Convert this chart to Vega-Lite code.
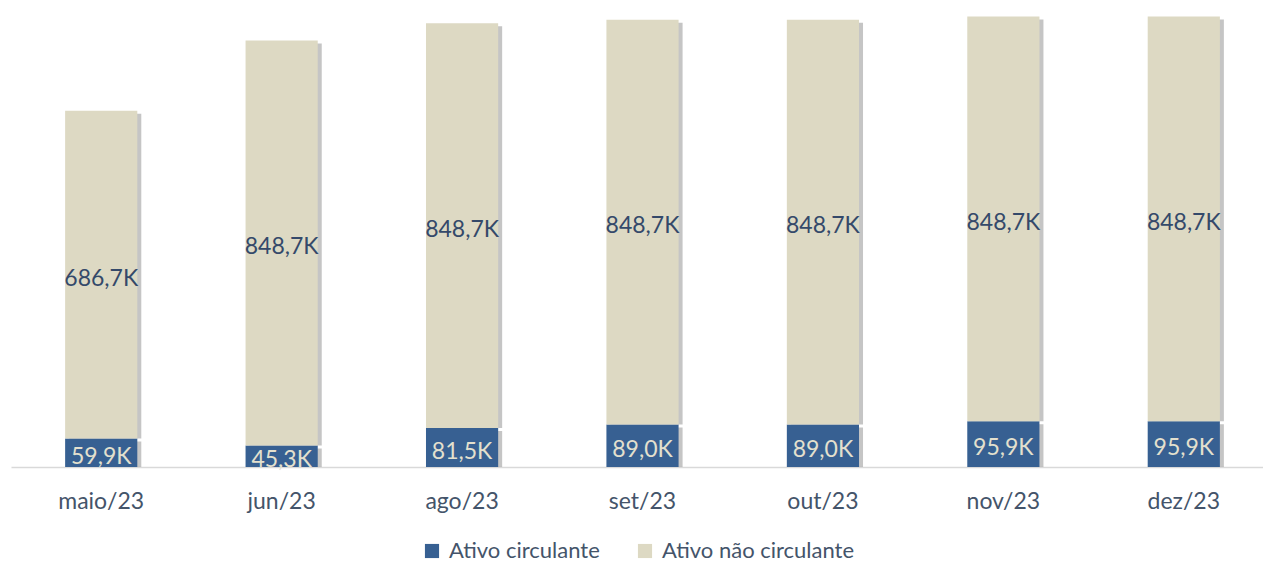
{
  "$schema": "https://vega.github.io/schema/vega-lite/v6.json",
  "autosize": {"type": "none"},
  "width": 1263,
  "height": 467,
  "padding": {"left": 11, "top": 0, "right": 0, "bottom": 98},
  "background": "white",
  "config": {"view": {"stroke": null}, "font": "Lato"},
  "data": {"values": [
    {"mes": "maio/23", "serie": "Ativo circulante", "ordem": 1, "valor": 59.9, "rotulo": "59,9K"},
    {"mes": "maio/23", "serie": "Ativo não circulante", "ordem": 2, "valor": 686.7, "rotulo": "686,7K"},
    {"mes": "jun/23", "serie": "Ativo circulante", "ordem": 1, "valor": 45.3, "rotulo": "45,3K"},
    {"mes": "jun/23", "serie": "Ativo não circulante", "ordem": 2, "valor": 848.7, "rotulo": "848,7K"},
    {"mes": "ago/23", "serie": "Ativo circulante", "ordem": 1, "valor": 81.5, "rotulo": "81,5K"},
    {"mes": "ago/23", "serie": "Ativo não circulante", "ordem": 2, "valor": 848.7, "rotulo": "848,7K"},
    {"mes": "set/23", "serie": "Ativo circulante", "ordem": 1, "valor": 89.0, "rotulo": "89,0K"},
    {"mes": "set/23", "serie": "Ativo não circulante", "ordem": 2, "valor": 848.7, "rotulo": "848,7K"},
    {"mes": "out/23", "serie": "Ativo circulante", "ordem": 1, "valor": 89.0, "rotulo": "89,0K"},
    {"mes": "out/23", "serie": "Ativo não circulante", "ordem": 2, "valor": 848.7, "rotulo": "848,7K"},
    {"mes": "nov/23", "serie": "Ativo circulante", "ordem": 1, "valor": 95.9, "rotulo": "95,9K"},
    {"mes": "nov/23", "serie": "Ativo não circulante", "ordem": 2, "valor": 848.7, "rotulo": "848,7K"},
    {"mes": "dez/23", "serie": "Ativo circulante", "ordem": 1, "valor": 95.9, "rotulo": "95,9K"},
    {"mes": "dez/23", "serie": "Ativo não circulante", "ordem": 2, "valor": 848.7, "rotulo": "848,7K"}
  ]},
  "transform": [
    {"stack": "valor", "groupby": ["mes"], "sort": [{"field": "ordem", "order": "ascending"}], "as": ["y0", "y1"]},
    {"calculate": "(datum.y0 + datum.y1) / 2", "as": "ymid"}
  ],
  "encoding": {
    "x": {
      "field": "mes", "type": "nominal", "sort": null,
      "scale": {"paddingInner": 0.6, "paddingOuter": 0.3},
      "axis": {
        "title": null, "labelAngle": 0, "ticks": false, "labelPadding": 23,
        "labelFontSize": 23, "labelColor": "#44546A", "domainColor": "#D9D9D9",
        "domainWidth": 1.5, "grid": false
      }
    }
  },
  "layer": [
    {
      "mark": {"type": "bar", "color": "#8C8C8C", "opacity": 0.5, "xOffset": 4, "yOffset": 3},
      "encoding": {
        "y": {"field": "y1", "type": "quantitative", "scale": {"domain": [0, 979]}, "axis": null},
        "y2": {"field": "y0"}
      }
    },
    {
      "mark": {"type": "bar"},
      "encoding": {
        "y": {"field": "y1", "type": "quantitative", "scale": {"domain": [0, 979]}, "axis": null},
        "y2": {"field": "y0"},
        "color": {
          "field": "serie", "type": "nominal",
          "scale": {"domain": ["Ativo circulante", "Ativo não circulante"], "range": ["#376092", "#DDD9C3"]},
          "legend": {
            "title": null, "orient": "none", "legendX": 410, "legendY": 540, "direction": "horizontal",
            "symbolType": "square", "symbolSize": 200, "symbolStrokeWidth": 0,
            "labelFontSize": 22, "labelColor": "#44546A", "columnPadding": 34,
            "labelOffset": 6, "labelLimit": 400, "padding": 0
          }
        }
      }
    },
    {
      "mark": {"type": "text", "fontSize": 23, "baseline": "middle", "align": "center", "dy": 4},
      "encoding": {
        "y": {"field": "ymid", "type": "quantitative", "scale": {"domain": [0, 979]}},
        "text": {"field": "rotulo"},
        "color": {"condition": {"test": "datum.serie === 'Ativo circulante'", "value": "#E4E0CE"}, "value": "#34496A"}
      }
    }
  ]
}
